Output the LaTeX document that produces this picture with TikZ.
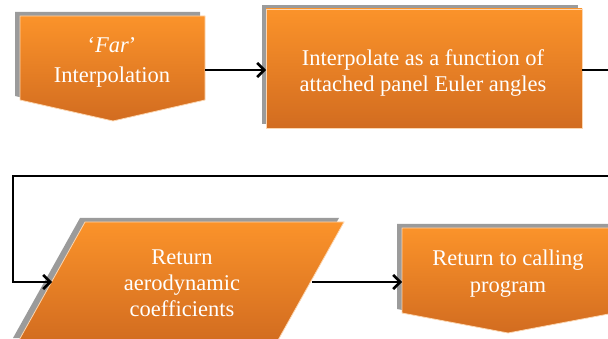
\documentclass[tikz,border=0pt]{standalone}
\usepackage{fontspec}
\setmainfont{Liberation Serif}
\usetikzlibrary{arrows.meta}
\definecolor{otop}{RGB}{251,147,42}
\definecolor{obot}{RGB}{210,108,32}
\definecolor{shad}{RGB}{155,155,155}
\definecolor{edge}{RGB}{252,214,176}
\tikzset{
  fill shape/.style={top color=otop, bottom color=obot, draw=edge, line width=0.8pt},
  shadow shape/.style={fill=shad},
  lbl/.style={text=white, align=center, font=\fontsize{22.5}{28}\selectfont, inner sep=0pt},
  conn/.style={line width=2.8pt, line join=miter, -{Straight Barb[length=7pt,width=14pt,line width=2.6pt]}}
}
\begin{document}
\begin{tikzpicture}[x=1pt,y=-1pt]
\useasboundingbox (0,0) rectangle (608,339);
\clip (0,0) rectangle (608,339);
% Box 1: off-page connector
\fill[shadow shape] (15,12) -- (200,12) -- (200,96) -- (108,117) -- (15,96) -- cycle;
\shade[fill shape] (20,16) -- (205,16) -- (205,100) -- (113,121) -- (20,100) -- cycle;
\node[lbl, font=\fontsize{22.5}{30}\selectfont] (far) at (112,62) {‘\textit{Far}’\\Interpolation};
% Box 2: rectangle
\fill[shadow shape] (262,5) rectangle (578,124);
\shade[fill shape] (266,9) rectangle (582,128);
\node[lbl, font=\fontsize{22.5}{26}\selectfont] (interp) at (423,73) {Interpolate as a function of\\attached panel Euler angles};
% Parallelogram
\fill[shadow shape] (80,218) -- (339,218) -- (272,338) -- (13,338) -- cycle;
\shade[fill shape] (85,222) -- (344,222) -- (277,342) -- (18,342) -- cycle;
\node[lbl, font=\fontsize{22.5}{26}\selectfont] (ret) at (182,283) {Return\\aerodynamic\\coefficients};
% Box 4: off-page connector
\fill[shadow shape] (397,224) -- (609,224) -- (609,309) -- (503,329) -- (397,309) -- cycle;
\shade[fill shape] (402,228) -- (614,228) -- (614,313) -- (508,333) -- (402,313) -- cycle;
\node[lbl, font=\fontsize{22.5}{27}\selectfont] (call) at (508,274) {Return to calling\\program};
% anchor points
\coordinate (farE) at (205,70);
\coordinate (interpW) at (266,70);
\coordinate (interpE) at (582,70);
\coordinate (offR) at (640,70);
\coordinate (loopR) at (640,176);
\coordinate (loopL) at (13,176);
\coordinate (loopB) at (13,282);
\coordinate (retW) at (52,282);
\coordinate (retE) at (312,282);
\coordinate (callW) at (402,282);
% connectors
\draw[conn] (farE) -- (interpW);
\draw[conn] (interpE) -- (offR) -- (loopR) -- (loopL) -- (loopB) -- (retW);
\draw[conn] (retE) -- (callW);
\end{tikzpicture}
\end{document}
